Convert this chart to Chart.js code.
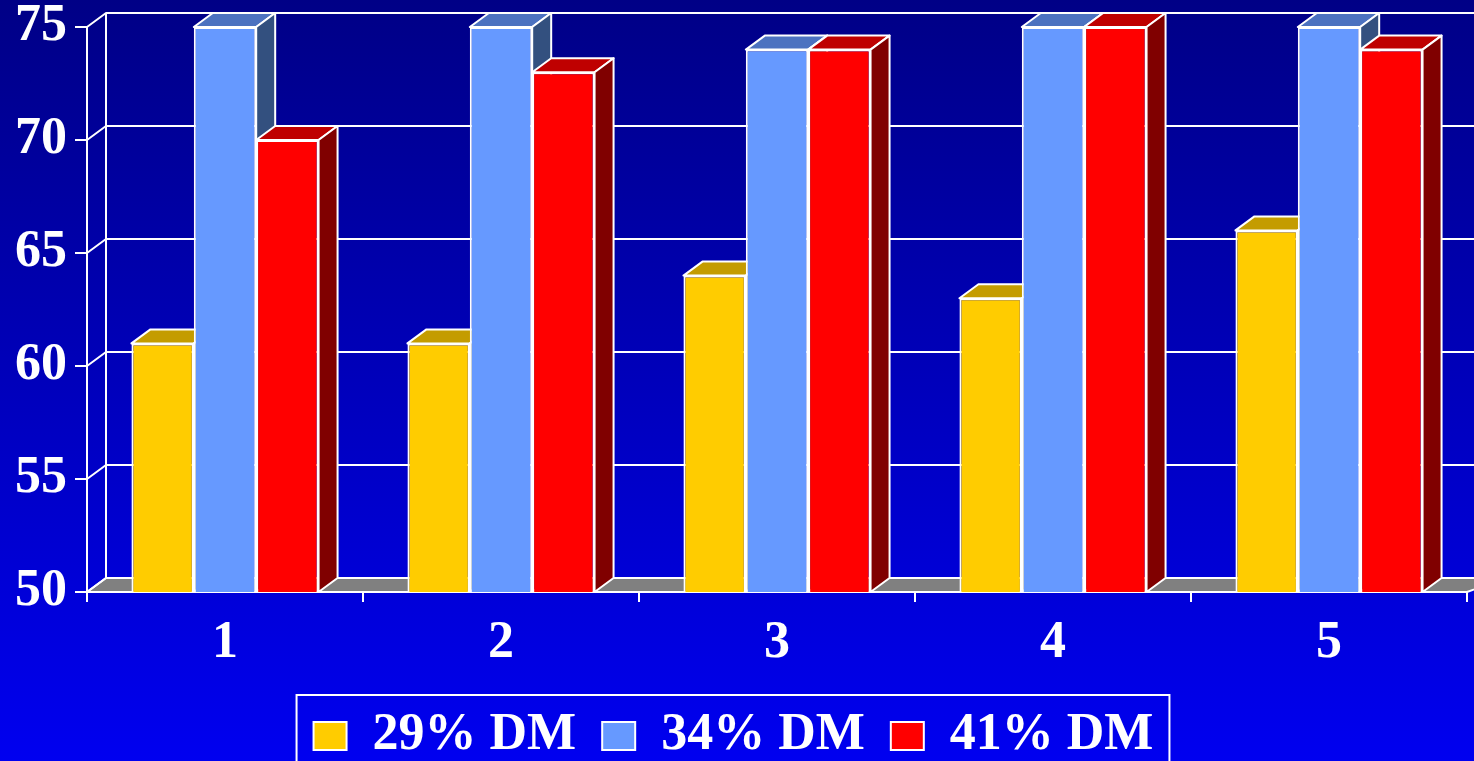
<!DOCTYPE html>
<html>
<head>
<meta charset="utf-8">
<script src="https://cdn.jsdelivr.net/npm/chart.js@4"></script>
<style>
  html, body { margin: 0; padding: 0; background: #0000c0; }
  #wrap { width: 1474px; height: 761px; }
</style>
</head>
<body>
<div id="wrap"><canvas id="chart" width="1474" height="761"></canvas></div>
<script>
const categories = ['1', '2', '3', '4', '5'];
const seriesNames = ['29% DM', '34% DM', '41% DM'];
const dm29 = [61, 61, 64, 63, 66];
const dm34 = [75, 75, 74, 75, 75];
const dm41 = [70, 73, 74, 75, 74];
const yMin = 50;
const yMax = 75;
const yStep = 5;

// front, top, side colours for each series
const faces = [
  { front: '#ffcc00', top: '#c49c00', side: '#806600' },
  { front: '#6699ff', top: '#4c72c0', side: '#33507f' },
  { front: '#ff0000', top: '#bf0000', side: '#800000' }
];

const depth = { x: 19, y: 14 };

function poly(ctx, pts, fill) {
  ctx.beginPath();
  ctx.moveTo(pts[0][0], pts[0][1]);
  for (let i = 1; i < pts.length; ++ i) ctx.lineTo(pts[i][0], pts[i][1]);
  ctx.closePath();
  ctx.fillStyle = fill;
  ctx.fill();
  ctx.stroke();
}

const threeD = {
  id: 'threeD',
  beforeDraw(chart) {
    const ctx = chart.ctx;
    const g = ctx.createLinearGradient(0, 0, 0, chart.height);
    g.addColorStop(0, '#000086');
    g.addColorStop(1, '#0000f0');
    ctx.save();
    ctx.fillStyle = g;
    ctx.fillRect(0, 0, chart.width, chart.height);
    ctx.restore();
  },
  beforeDatasetsDraw(chart) {
    const { ctx, chartArea: a, scales: { x, y } } = chart;
    const dx = depth.x, dy = depth.y;
    ctx.save();
    ctx.strokeStyle = '#ffffff';
    ctx.lineWidth = 2;
    ctx.lineJoin = 'round';

    // floor
    poly(ctx, [[a.left, a.bottom], [a.left + dx, a.bottom - dy],
      [a.right + dx + 20, a.bottom - dy], [a.right, a.bottom]], '#808080');

    // back wall grid and left wall
    ctx.beginPath();
    for (let v = yMin; v <= yMax; v += yStep) {
      const py = y.getPixelForValue(v);
      ctx.moveTo(a.left, py);
      ctx.lineTo(a.left + dx, py - dy);
      ctx.lineTo(chart.width, py - dy);
    }
    ctx.moveTo(a.left + dx, a.top - dy);
    ctx.lineTo(a.left + dx, a.bottom - dy);
    ctx.moveTo(a.left, a.bottom);
    ctx.lineTo(a.right, a.bottom);
    ctx.stroke();

    // tops and sides of the bars
    const floor = y.getPixelForValue(yMin);
    for (let j = 0; j < categories.length; ++ j) {
      chart.data.datasets.forEach((ds, i) => {
        const bar = chart.getDatasetMeta(i).data[j];
        const l = bar.x - bar.width / 2;
        const r = bar.x + bar.width / 2;
        const t = bar.y;
        const b = Math.min(bar.base, floor);
        poly(ctx, [[l, t], [l + dx, t - dy], [r + dx, t - dy], [r, t]], faces[i].top);
        poly(ctx, [[r, t], [r + dx, t - dy], [r + dx, b - dy], [r, b]], faces[i].side);
      });
    }
    ctx.restore();
  },
  afterDraw(chart) {
    const boxes = chart.legend.legendHitBoxes;
    if (!boxes || !boxes.length) return;
    const first = boxes[0];
    const last = boxes[boxes.length - 1];
    const ctx = chart.ctx;
    ctx.save();
    ctx.strokeStyle = '#ffffff';
    ctx.lineWidth = 2;
    ctx.strokeRect(first.left - 17, 695, last.left + last.width - first.left + 33, 100);
    ctx.restore();
  }
};

Chart.defaults.font.family = "'Liberation Serif', 'Times New Roman', serif";
Chart.defaults.font.weight = 'bold';
Chart.defaults.color = '#ffffff';

const seriesValues = [dm29, dm34, dm41];

new Chart(document.getElementById('chart'), {
  type: 'bar',
  data: {
    labels: categories,
    datasets: seriesNames.map((name, i) => ({
      label: name,
      data: seriesValues[i],
      backgroundColor: faces[i].front,
      borderColor: '#ffffff',
      borderWidth: 2,
      borderSkipped: false,
      barPercentage: 1.0,
      categoryPercentage: 0.678
    }))
  },
  options: {
    responsive: false,
    animation: false,
    layout: { padding: { top: 27, right: 7, left: 0, bottom: -11 } },
    plugins: {
      tooltip: { enabled: false },
      legend: {
        position: 'bottom',
        labels: {
          color: '#ffffff',
          font: { size: 52, weight: 'bold' },
          boxWidth: 33,
          boxHeight: 28,
          padding: 26
        }
      }
    },
    scales: {
      x: {
        offset: true,
        grid: {
          offset: true,
          drawOnChartArea: false,
          drawTicks: true,
          tickLength: 10,
          color: '#ffffff',
          lineWidth: 2
        },
        border: { display: true, color: '#ffffff', width: 2 },
        ticks: { color: '#ffffff', font: { size: 52, weight: 'bold' }, padding: 10 },
        afterFit(scale) { scale.height = 92; }
      },
      y: {
        min: yMin,
        max: yMax,
        grid: {
          drawOnChartArea: false,
          drawTicks: true,
          tickLength: 12,
          color: '#ffffff',
          lineWidth: 2
        },
        border: { display: true, color: '#ffffff', width: 2 },
        ticks: { stepSize: yStep, color: '#ffffff', font: { size: 52, weight: 'bold', lineHeight: 0.6 }, padding: 8 },
        afterFit(scale) { scale.width = 87; }
      }
    }
  },
  plugins: [threeD]
});
</script>
</body>
</html>
